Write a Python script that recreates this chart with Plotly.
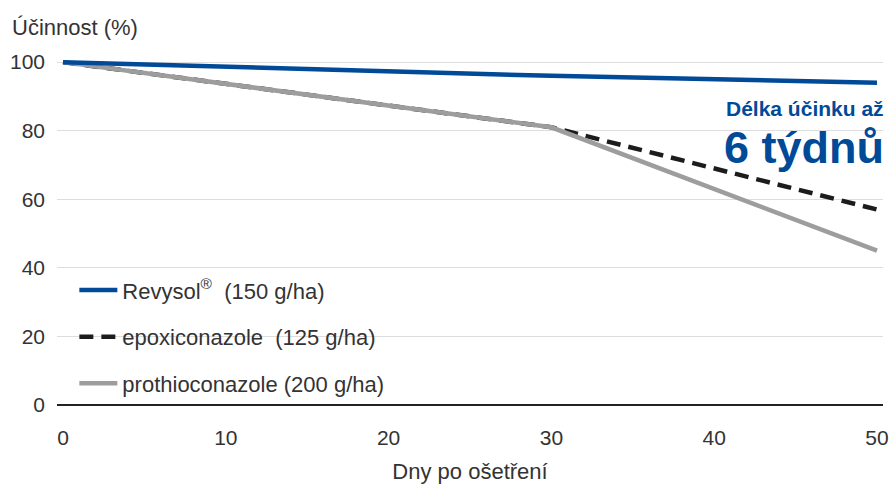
import plotly.graph_objects as go

days = [0, 30, 50]
revysol = [100, 96, 94]
epoxiconazole = [100, 81, 57]
prothioconazole = [100, 81, 45]
series_names = ["Revysol<sup>®</sup>  (150 g/ha)", "epoxiconazole  (125 g/ha)", "prothioconazole (200 g/ha)"]
y_ticks = [0, 20, 40, 60, 80, 100]
x_ticks = [0, 10, 20, 30, 40, 50]

FONT = "Liberation Sans"
TXT = "#333333"
FS = 21

fig = go.Figure()
fig.add_trace(go.Scatter(x=days, y=epoxiconazole, mode="lines", name=series_names[1],
                         legendrank=2, legendgroup="b",
                         line=dict(color="#1c1c1c", width=4.5, dash="14px,8px")))
fig.add_trace(go.Scatter(x=days, y=prothioconazole, mode="lines", name=series_names[2],
                         legendrank=3, legendgroup="c",
                         line=dict(color="#9d9d9d", width=4.5)))
fig.add_trace(go.Scatter(x=days, y=revysol, mode="lines", name=series_names[0],
                         legendrank=1, legendgroup="a",
                         line=dict(color="#004a98", width=4.5)))

fig.update_layout(
    width=893, height=484,
    margin=dict(l=57, r=10, t=45, b=79),
    plot_bgcolor="white", paper_bgcolor="white",
    font=dict(family=FONT, size=FS, color=TXT),
    showlegend=True,
    legend=dict(x=0.021, y=0.377, xanchor="left", yanchor="top",
                traceorder="grouped", bgcolor="rgba(0,0,0,0)",
                font=dict(size=22, color=TXT), itemwidth=38, tracegroupgap=15),
    xaxis=dict(range=[-0.37, 50.37], tickvals=x_ticks, showgrid=False, zeroline=False,
               showline=False, ticks="", ticklabelstandoff=18, automargin=False,
               title=dict(text="Dny po ošetření", standoff=20, font=dict(size=22))),
    yaxis=dict(range=[0, 105], tickvals=y_ticks, showgrid=True, gridcolor="#dddddd",
               gridwidth=1, zeroline=True, zerolinecolor="#222222", zerolinewidth=1.5,
               showline=False, ticks="", ticklabelstandoff=11, automargin=False),
    annotations=[
        dict(text="Účinnost (%)", xref="paper", yref="paper", x=-47/826, y=1.0,
             xanchor="left", yanchor="bottom", yshift=3, showarrow=False,
             font=dict(size=22, color=TXT)),
        dict(text="<b>Délka účinku až</b>", xref="paper", yref="y", x=1.0, y=86.5,
             xanchor="right", yanchor="middle", xshift=3, showarrow=False,
             font=dict(size=21, color="#004a98")),
        dict(text="<b>6 týdnů</b>", xref="paper", yref="y", x=1.0, y=75.2,
             xanchor="right", yanchor="middle", xshift=3, showarrow=False,
             font=dict(size=45, color="#004a98")),
    ],
)
fig.write_html("out.html")
